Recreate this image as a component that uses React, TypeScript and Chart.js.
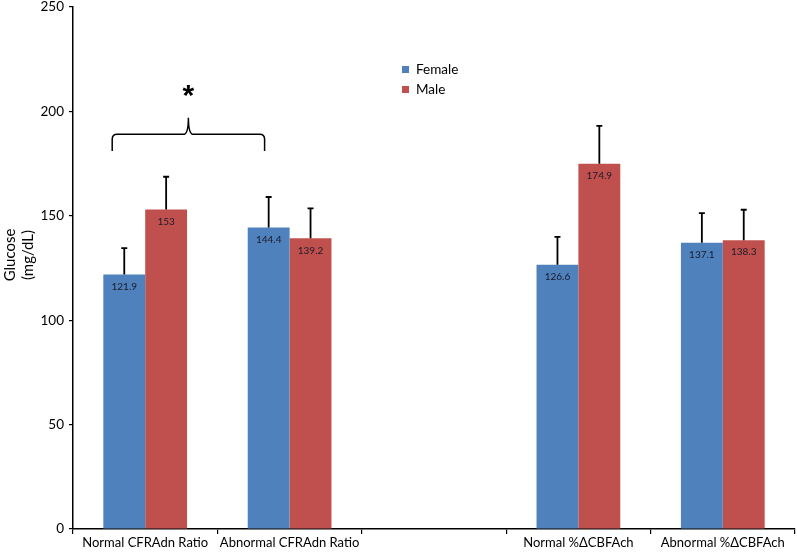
import React, { useEffect, useRef } from "react";
import { Chart, registerables } from "chart.js";

Chart.register(...registerables);

const categories = ["Normal CFRAdn Ratio", "Abnormal CFRAdn Ratio", "", "Normal %ΔCBFAch", "Abnormal %ΔCBFAch"];
const seriesNames = ["Female", "Male"];
const femaleValues = [121.9, 144.4, null, 126.6, 137.1];
const maleValues = [153, 139.2, null, 174.9, 138.3];
const femaleErrors = [12.6, 14.6, null, 13.3, 14.2];
const maleErrors = [15.7, 14.4, null, 18.2, 14.6];
const valueLabels = [
  ["121.9", "144.4", "", "126.6", "137.1"],
  ["153", "139.2", "", "174.9", "138.3"],
];
const yTicks = [0, 50, 100, 150, 200, 250];
const yTitle = ["Glucose", "(mg/dL)"];
const significance = { from: 0, to: 1, mark: "*", baseValue: 181, barValue: 189, tipValue: 197, markValue: 210 };

const FONT = "Lato, 'Open Sans', 'Liberation Sans', sans-serif";
const COLORS = ["#4F81BD", "#C0504D"];

const overlay = {
  id: "overlay",
  afterDatasetsDraw(chart: any) {
    const ctx = chart.ctx;
    const y = chart.scales.y;
    const x = chart.scales.x;
    const errs = [femaleErrors, maleErrors];
    ctx.save();
    [0, 1].forEach((di) => {
      const meta = chart.getDatasetMeta(di);
      meta.data.forEach((bar: any, i: number) => {
        const v = (chart.data.datasets[di].data as any[])[i];
        if (v == null) return;
        const e = errs[di][i] as number;
        const top = y.getPixelForValue(v + e);
        ctx.strokeStyle = "#000";
        ctx.lineWidth = 1.8;
        ctx.beginPath();
        ctx.moveTo(bar.x, bar.y);
        ctx.lineTo(bar.x, top);
        ctx.moveTo(bar.x - 3, top);
        ctx.lineTo(bar.x + 3, top);
        ctx.stroke();
        ctx.fillStyle = "#1a1a2a";
        ctx.font = "10px " + FONT;
        ctx.textAlign = "center";
        ctx.textBaseline = "middle";
        ctx.fillText(valueLabels[di][i], bar.x, bar.y + 12);
      });
    });
    const xl = x.getPixelForValue(significance.from) - 33;
    const xr = x.getPixelForValue(significance.to) - 25;
    const xm = (xl + xr) / 2;
    const yb = y.getPixelForValue(significance.baseValue);
    const yh = y.getPixelForValue(significance.barValue);
    const yt = y.getPixelForValue(significance.tipValue);
    const r = 5;
    ctx.strokeStyle = "#000";
    ctx.lineWidth = 1.5;
    ctx.beginPath();
    ctx.moveTo(xl, yb);
    ctx.lineTo(xl, yh + r);
    ctx.quadraticCurveTo(xl, yh, xl + r, yh);
    ctx.lineTo(xm - r, yh);
    ctx.quadraticCurveTo(xm, yh, xm, yt);
    ctx.quadraticCurveTo(xm, yh, xm + r, yh);
    ctx.lineTo(xr - r, yh);
    ctx.quadraticCurveTo(xr, yh, xr, yh + r);
    ctx.lineTo(xr, yb);
    ctx.stroke();
    ctx.fillStyle = "#000";
    ctx.font = "bold 30px 'Liberation Sans', sans-serif";
    ctx.textAlign = "center";
    ctx.textBaseline = "middle";
    ctx.fillText(significance.mark, xm, y.getPixelForValue(significance.markValue) + 6);
    ctx.font = "13.5px " + FONT;
    ctx.textAlign = "left";
    seriesNames.forEach((name, i) => {
      const cy = 69 + i * 20;
      ctx.fillStyle = COLORS[i];
      ctx.fillRect(402, cy - 3, 7, 7);
      ctx.fillStyle = "#000";
      ctx.fillText(name, 416, cy + 1);
    });
    ctx.font = "15px " + FONT;
    ctx.fillStyle = "#000";
    ctx.textAlign = "center";
    ctx.textBaseline = "middle";
    yTitle.forEach((t, i) => {
      ctx.save();
      ctx.translate(10 + i * 18, 255);
      ctx.rotate(-Math.PI / 2);
      ctx.fillText(t, 0, 0);
      ctx.restore();
    });
    ctx.restore();
  },
};

export default function App() {
  const ref = useRef<HTMLCanvasElement>(null);
  useEffect(() => {
    const chart = new Chart(ref.current as HTMLCanvasElement, {
      type: "bar",
      data: {
        labels: categories,
        datasets: seriesNames.map((name, i) => ({
          label: name,
          data: (i === 0 ? femaleValues : maleValues) as any,
          backgroundColor: COLORS[i],
          borderWidth: 0,
        })),
      },
      options: {
        animation: false,
        responsive: false,
        maintainAspectRatio: false,
        layout: { padding: { top: 7, right: 2, left: 0, bottom: 0 } },
        datasets: { bar: { categoryPercentage: 0.58, barPercentage: 1 } } as any,
        plugins: { legend: { display: false }, tooltip: { enabled: false } },
        scales: {
          x: {
            grid: { display: true, drawOnChartArea: false, offset: true, color: "#000", tickLength: 5, lineWidth: 1.2 },
            border: { color: "#000", width: 1.5 },
            ticks: { color: "#000", font: { family: FONT, size: 13 }, padding: 1, maxRotation: 0, autoSkip: false },
            afterFit: (s: any) => {
              s.height = 23;
              s.paddingLeft = 0;
              s.paddingRight = 0;
            },
          },
          y: {
            min: 0,
            max: 250,
            afterBuildTicks: (s: any) => {
              s.ticks = yTicks.map((v) => ({ value: v }));
            },
            ticks: { color: "#000", font: { family: FONT, size: 13.5 }, padding: 5 },
            grid: { drawOnChartArea: false, color: "#000", tickLength: 4, lineWidth: 1.2 },
            border: { color: "#000", width: 1.5 },
            afterFit: (s: any) => {
              s.width = 73;
              s.paddingTop = 0;
              s.paddingBottom = 0;
            },
          },
        },
      },
      plugins: [overlay],
    });
    return () => chart.destroy();
  }, []);
  return (
    <div style={{ position: "absolute", left: 0, top: 0, width: 797, height: 552, background: "#fff" }}>
      <canvas ref={ref} width={797} height={552} style={{ display: "block" }} />
    </div>
  );
}
